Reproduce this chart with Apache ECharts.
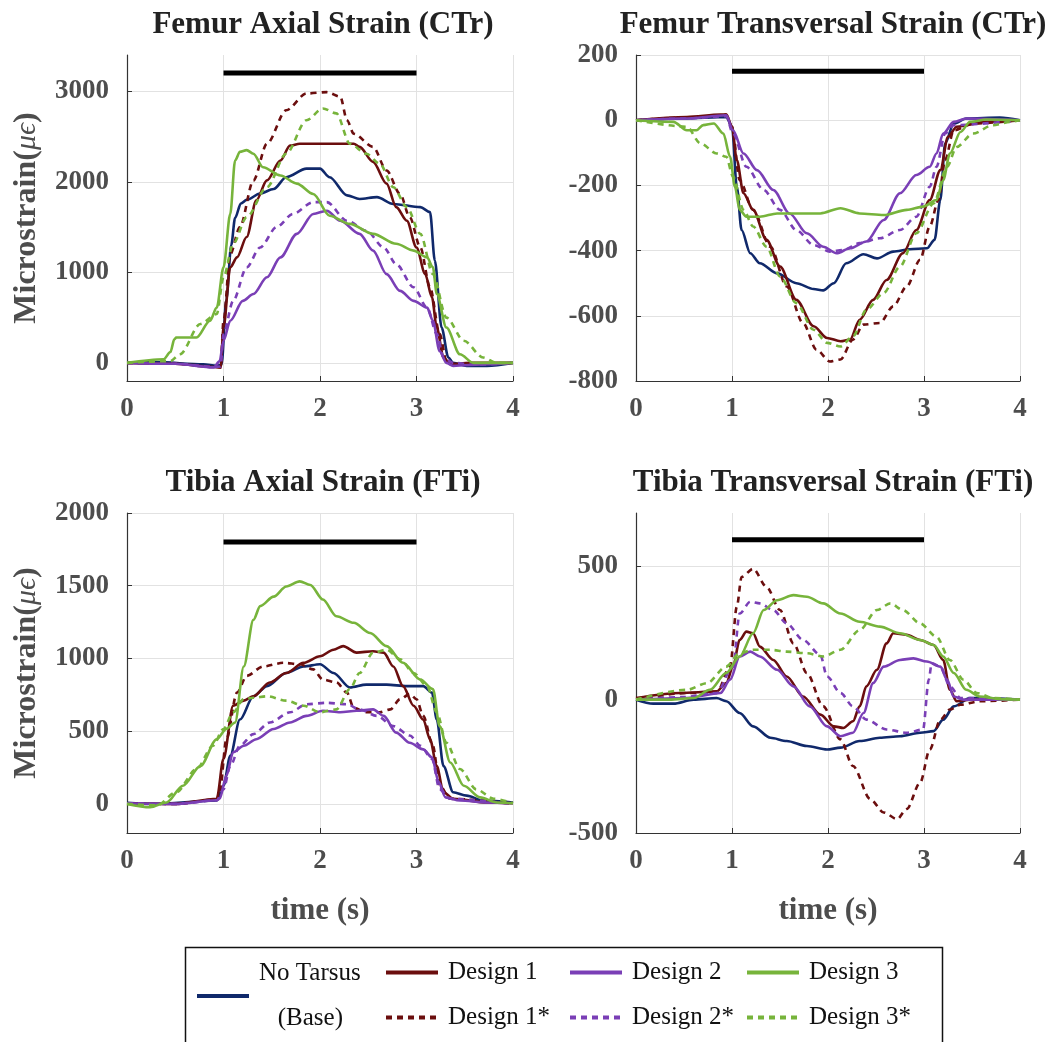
<!DOCTYPE html>
<html><head><meta charset="utf-8">
<script src="https://cdn.jsdelivr.net/npm/echarts@6/dist/echarts.min.js"></script>
<style>html,body{margin:0;padding:0;background:#fff}#c{width:1057px;height:1042px}</style>
</head><body><div id="c"></div>
<script>
// ---------- DATA ----------
const seriesNames = ['No Tarsus (Base)','Design 1','Design 1*','Design 2','Design 2*','Design 3','Design 3*'];
const panelTitles = ['Femur Axial Strain (CTr)','Femur Transversal Strain (CTr)','Tibia Axial Strain (FTi)','Tibia Transversal Strain (FTi)'];
const xTicks = [0,1,2,3,4];
const yTicksFA = [0,1000,2000,3000];
const yTicksFT = [-800,-600,-400,-200,0,200];
const yTicksTA = [0,500,1000,1500,2000];
const yTicksTT = [-500,0,500];
const yRangeFA = [-200,3400];
const yRangeFT = [-800,200];
const yRangeTA = [-200,2000];
const yRangeTT = [-500,700];
const stanceTime = [1,3];
const stanceLevel = [3200,150,1800,600];

// Femur axial (CTr)
const faBase = [[0,0],[0.3,8],[0.79,-15],[0.93,-33],[0.98,-20],[1.03,700],[1.08,1300],[1.12,1600],[1.18,1760],[1.24,1800],[1.38,1870],[1.52,1920],[1.65,2050],[1.86,2145],[2.0,2145],[2.1,2050],[2.28,1850],[2.41,1810],[2.59,1830],[2.76,1755],[3.04,1720],[3.14,1665],[3.19,1130],[3.26,390],[3.33,60],[3.38,0],[3.52,-33],[3.73,-33],[4,0]];
const faD1 = [[0,0],[0.5,-10],[0.9,-45],[0.97,-50],[1.0,390],[1.07,1055],[1.14,1165],[1.24,1390],[1.34,1795],[1.45,2015],[1.59,2235],[1.69,2400],[1.79,2420],[2.35,2420],[2.41,2385],[2.55,2220],[2.69,1980],[2.79,1720],[2.9,1570],[3.0,1275],[3.09,980],[3.16,725],[3.21,390],[3.28,60],[3.35,-15],[3.55,0],[4,0]];
const faD1s = [[0,0],[0.5,-10],[0.9,-40],[0.97,-50],[1.0,465],[1.07,1200],[1.17,1500],[1.31,2015],[1.45,2420],[1.65,2790],[1.86,2975],[2.07,2990],[2.21,2940],[2.28,2680],[2.35,2530],[2.55,2385],[2.69,2125],[2.83,1865],[2.93,1610],[3.04,1275],[3.14,835],[3.24,320],[3.31,20],[3.42,-20],[3.7,-10],[4,0]];
const faD2 = [[0,0],[0.5,-10],[0.9,-50],[0.96,20],[1.0,245],[1.07,465],[1.2,685],[1.31,760],[1.45,945],[1.59,1165],[1.76,1425],[1.93,1645],[2.07,1680],[2.21,1570],[2.41,1425],[2.55,1240],[2.69,980],[2.83,795],[2.97,685],[3.11,610],[3.17,465],[3.24,130],[3.31,0],[3.38,-33],[3.73,-15],[4,0]];
const faD2s = [[0,0],[0.5,-10],[0.9,-45],[0.97,-40],[1.0,320],[1.1,685],[1.24,1055],[1.38,1275],[1.55,1500],[1.72,1645],[1.93,1775],[2.07,1775],[2.28,1570],[2.48,1460],[2.66,1275],[2.79,1090],[2.97,835],[3.11,610],[3.21,320],[3.28,60],[3.38,0],[3.6,-20],[4,0]];
const faD3 = [[0,0],[0.38,40],[0.45,120],[0.49,260],[0.51,280],[0.72,280],[0.86,465],[0.93,610],[1.0,1055],[1.07,1645],[1.12,2235],[1.17,2330],[1.24,2350],[1.31,2310],[1.41,2160],[1.59,2070],[1.76,1980],[1.93,1865],[2.1,1625],[2.31,1535],[2.55,1425],[2.79,1315],[2.97,1240],[3.11,1165],[3.17,1055],[3.21,760],[3.31,390],[3.45,95],[3.59,0],[4,0]];
const faD3s = [[0,0],[0.45,20],[0.55,95],[0.76,430],[0.93,540],[1.0,945],[1.1,1315],[1.24,1610],[1.45,1940],[1.65,2310],[1.86,2680],[2.03,2810],[2.17,2755],[2.31,2420],[2.48,2310],[2.62,2200],[2.76,1940],[2.9,1720],[3.04,1425],[3.17,980],[3.31,500],[3.49,245],[3.69,60],[3.83,0],[4,0]];

// Femur transversal (CTr)
const ftBase = [[0,0],[0.5,5],[0.94,10],[1.0,-20],[1.05,-204],[1.1,-337],[1.19,-408],[1.29,-439],[1.47,-470],[1.67,-500],[1.85,-518],[1.95,-522],[2.06,-500],[2.19,-439],[2.37,-411],[2.51,-424],[2.68,-403],[2.85,-396],[3.03,-393],[3.11,-367],[3.17,-245],[3.22,-71],[3.31,-10],[3.44,5],[3.79,8],[4,0]];
const ftD1 = [[0,0],[0.53,10],[0.88,17],[0.94,18],[1.0,-20],[1.05,-122],[1.12,-224],[1.22,-275],[1.36,-367],[1.5,-449],[1.67,-551],[1.85,-632],[1.99,-668],[2.13,-678],[2.23,-673],[2.33,-612],[2.47,-551],[2.61,-490],[2.78,-408],[2.92,-337],[3.06,-245],[3.17,-153],[3.25,-51],[3.34,-20],[3.65,-5],[4,0]];
const ftD1s = [[0,0],[0.53,8],[0.94,15],[1.0,-20],[1.08,-184],[1.22,-275],[1.4,-388],[1.57,-510],[1.74,-622],[1.88,-704],[2.02,-740],[2.13,-734],[2.26,-673],[2.37,-627],[2.54,-622],[2.68,-571],[2.82,-510],[2.96,-428],[3.06,-326],[3.15,-245],[3.22,-122],[3.31,-31],[3.51,-10],[4,0]];
const ftD2 = [[0,0],[0.5,5],[0.94,15],[1.01,-31],[1.12,-102],[1.26,-153],[1.43,-214],[1.6,-286],[1.78,-347],[1.95,-388],[2.09,-408],[2.23,-393],[2.4,-372],[2.58,-306],[2.75,-224],[2.92,-168],[3.06,-143],[3.13,-102],[3.2,-41],[3.31,-5],[3.44,5],[4,0]];
const ftD2s = [[0,0],[0.5,5],[0.94,12],[1.01,-41],[1.15,-143],[1.33,-214],[1.5,-275],[1.67,-337],[1.85,-383],[2.02,-403],[2.16,-398],[2.33,-377],[2.54,-362],[2.75,-337],[2.92,-296],[3.06,-204],[3.13,-143],[3.22,-41],[3.31,-15],[4,0]];
const ftD3 = [[0,0],[0.39,-5],[0.53,-31],[0.63,-31],[0.7,-15],[0.81,-10],[0.91,-41],[0.98,-112],[1.03,-204],[1.08,-275],[1.15,-296],[1.29,-296],[1.47,-286],[1.67,-286],[1.92,-286],[2.13,-270],[2.33,-286],[2.58,-291],[2.82,-275],[2.99,-265],[3.13,-245],[3.2,-184],[3.27,-102],[3.38,-36],[3.48,-5],[3.65,2],[4,0]];
const ftD3s = [[0,0],[0.53,-20],[0.67,-71],[0.84,-102],[0.94,-112],[1.01,-173],[1.12,-275],[1.22,-326],[1.36,-388],[1.5,-479],[1.67,-561],[1.85,-643],[1.99,-683],[2.13,-694],[2.26,-663],[2.4,-581],[2.58,-530],[2.75,-449],[2.92,-347],[3.1,-255],[3.24,-143],[3.34,-82],[3.51,-41],[3.72,-15],[3.9,-5],[4,0]];

// Tibia axial (FTi)
const taBase = [[0,7],[0.27,0],[0.93,23],[1.0,125],[1.07,330],[1.17,580],[1.31,740],[1.45,810],[1.65,900],[1.83,945],[2.0,960],[2.14,900],[2.31,800],[2.48,820],[2.69,820],[2.9,810],[3.07,810],[3.16,765],[3.21,580],[3.28,260],[3.38,80],[3.52,57],[3.69,23],[4,10]];
const taD1 = [[0,5],[0.5,0],[0.93,35],[1.0,310],[1.1,675],[1.21,710],[1.31,740],[1.48,835],[1.65,900],[1.83,970],[2.0,1015],[2.14,1060],[2.24,1085],[2.38,1040],[2.55,1050],[2.66,1040],[2.76,945],[2.86,810],[2.97,675],[3.07,580],[3.14,445],[3.21,260],[3.28,80],[3.38,35],[3.73,10],[4,5]];
const taD1s = [[0,5],[0.5,0],[0.93,30],[0.96,80],[1.03,445],[1.14,765],[1.24,880],[1.41,945],[1.62,970],[1.79,960],[1.93,925],[2.03,855],[2.17,835],[2.28,765],[2.35,660],[2.48,630],[2.62,630],[2.73,650],[2.83,720],[2.93,755],[3.0,720],[3.07,605],[3.17,400],[3.24,125],[3.35,35],[4,0]];
const taD2 = [[0,5],[0.5,0],[0.93,25],[0.96,35],[1.03,195],[1.1,355],[1.21,400],[1.34,445],[1.52,515],[1.69,560],[1.86,605],[2.03,640],[2.21,630],[2.38,640],[2.55,650],[2.66,605],[2.79,490],[2.93,420],[3.07,375],[3.16,320],[3.23,150],[3.3,45],[3.45,23],[3.73,10],[4,5]];
const taD2s = [[0,5],[0.5,0],[0.93,25],[1.0,100],[1.07,260],[1.17,400],[1.31,480],[1.48,560],[1.69,630],[1.86,685],[2.07,695],[2.28,685],[2.41,650],[2.59,605],[2.76,535],[2.93,470],[3.04,400],[3.16,310],[3.24,100],[3.35,35],[4,0]];
const taD3 = [[0,0],[0.24,-23],[0.41,10],[0.58,125],[0.76,260],[0.93,445],[1.03,515],[1.12,560],[1.21,945],[1.31,1265],[1.38,1360],[1.52,1425],[1.65,1495],[1.79,1530],[1.9,1505],[2.03,1405],[2.17,1290],[2.35,1245],[2.52,1175],[2.69,1085],[2.86,970],[3.04,855],[3.17,790],[3.24,535],[3.35,285],[3.49,125],[3.66,45],[3.83,10],[4,5]];
const taD3s = [[0,0],[0.31,-10],[0.51,80],[0.72,240],[0.89,400],[1.0,515],[1.1,630],[1.21,720],[1.31,730],[1.45,740],[1.65,710],[1.83,675],[2.0,630],[2.17,650],[2.31,790],[2.41,900],[2.55,1040],[2.69,1060],[2.83,995],[2.97,900],[3.11,810],[3.21,630],[3.31,420],[3.45,240],[3.62,100],[3.8,35],[4,5]];

// Tibia transversal (FTi)
const ttBase = [[0,0],[0.18,-15],[0.39,-15],[0.6,0],[0.84,6],[0.94,-6],[1.08,-50],[1.22,-100],[1.4,-143],[1.57,-155],[1.78,-174],[1.99,-187],[2.13,-180],[2.33,-155],[2.54,-143],[2.75,-137],[2.96,-124],[3.1,-118],[3.2,-75],[3.31,-25],[3.48,6],[3.65,6],[4,0]];
const ttD1 = [[0,6],[0.46,25],[0.84,31],[0.94,62],[1.01,124],[1.08,224],[1.15,255],[1.22,249],[1.29,199],[1.43,149],[1.57,87],[1.74,12],[1.92,-56],[2.06,-100],[2.16,-106],[2.26,-81],[2.33,-25],[2.4,50],[2.51,112],[2.61,211],[2.68,249],[2.82,243],[2.96,224],[3.1,205],[3.2,149],[3.27,37],[3.34,-6],[3.48,0],[4,0]];
const ttD1s = [[0,0],[0.53,25],[0.84,25],[0.98,124],[1.05,348],[1.1,460],[1.22,491],[1.36,423],[1.5,336],[1.64,211],[1.78,100],[1.95,-25],[2.13,-149],[2.26,-249],[2.44,-373],[2.58,-423],[2.72,-448],[2.82,-410],[2.96,-311],[3.06,-187],[3.17,-75],[3.27,-37],[3.38,-19],[3.58,-6],[4,0]];
const ttD2 = [[0,0],[0.53,6],[0.88,25],[0.98,75],[1.08,162],[1.19,180],[1.29,162],[1.47,112],[1.64,50],[1.81,-25],[1.99,-100],[2.13,-137],[2.26,-124],[2.37,-50],[2.47,62],[2.58,124],[2.75,149],[2.89,155],[3.03,143],[3.17,124],[3.24,75],[3.31,12],[3.41,0],[4,0]];
const ttD2s = [[0,0],[0.5,10],[0.84,25],[1.01,124],[1.08,323],[1.19,367],[1.29,361],[1.43,336],[1.57,286],[1.74,224],[1.92,168],[1.99,87],[2.13,25],[2.26,-25],[2.4,-75],[2.61,-112],[2.82,-124],[2.99,-112],[3.05,75],[3.08,137],[3.17,124],[3.27,50],[3.38,6],[4,0]];
const ttD3 = [[0,0],[0.35,0],[0.6,6],[0.77,37],[0.94,100],[1.08,162],[1.22,249],[1.33,336],[1.47,373],[1.64,392],[1.78,386],[1.95,361],[2.13,323],[2.33,292],[2.54,274],[2.75,249],[2.96,224],[3.1,205],[3.2,162],[3.31,100],[3.44,37],[3.58,12],[3.79,2],[4,0]];
const ttD3s = [[0,0],[0.53,37],[0.74,62],[0.94,124],[1.08,174],[1.22,187],[1.4,187],[1.57,180],[1.78,174],[1.95,162],[2.13,187],[2.33,261],[2.51,336],[2.65,361],[2.78,336],[2.96,286],[3.13,236],[3.27,149],[3.41,75],[3.55,25],[3.72,6],[4,0]];

// ---------- BUILD ----------
const FONT = "'Liberation Serif','Times New Roman',serif";
const colors = ['#10296b','#6b0e0e','#6b0e0e','#7a3fb6','#7a3fb6','#77b43b','#77b43b'];
const dashed = [false,false,true,false,true,false,true];
const panelData = [
  [faBase,faD1,faD1s,faD2,faD2s,faD3,faD3s],
  [ftBase,ftD1,ftD1s,ftD2,ftD2s,ftD3,ftD3s],
  [taBase,taD1,taD1s,taD2,taD2s,taD3,taD3s],
  [ttBase,ttD1,ttD1s,ttD2,ttD2s,ttD3,ttD3s]
];
const yTicks = [yTicksFA,yTicksFT,yTicksTA,yTicksTT];
const yRanges = [yRangeFA,yRangeFT,yRangeTA,yRangeTT];
const gridRects = [[127,55,386,326],[636,55,384,326],[127,513,386,320],[636,513,384,320]];
const titleCenters = [[318,4],[828,4],[318,462],[828,462]];

const grid = [], xAxis = [], yAxis = [], series = [], title = [];
const tickColor = '#4d4d4d';
for (let p = 0; p < 4; p++) {
  const r = gridRects[p];
  grid.push({left:r[0], top:r[1], width:r[2], height:r[3], containLabel:false});
  title.push({text: panelTitles[p], left: titleCenters[p][0], top: titleCenters[p][1], textAlign:'center',
    textStyle:{fontFamily:FONT, fontWeight:'bold', fontSize:31, color:'#222'}});
  const bottomRow = p >= 2, leftCol = (p % 2) === 0;
  xAxis.push({type:'value', gridIndex:p, min:xTicks[0], max:xTicks[xTicks.length-1], interval:1,
    name: bottomRow ? 'time (s)' : '', nameLocation:'middle', nameGap:62,
    nameTextStyle:{fontFamily:FONT, fontWeight:'bold', fontSize:31, color:tickColor},
    axisLine:{show:true, onZero:false, lineStyle:{color:'#333', width:1.2}},
    axisTick:{show:true, inside:true, length:5, lineStyle:{color:'#333'}},
    axisLabel:{fontFamily:FONT, fontWeight:'bold', fontSize:27, color:tickColor, margin:15, formatter: v => String(v)},
    splitLine:{show:true, lineStyle:{color:'#e2e2e2', width:1}}
  });
  yAxis.push({type:'value', gridIndex:p, min:yRanges[p][0], max:yRanges[p][1],
    name: leftCol ? 'Microstrain({g|μϵ})' : '', nameLocation:'middle', nameGap:84,
    nameTextStyle:{fontFamily:FONT, fontWeight:'bold', fontSize:32, color:tickColor,
      rich:{g:{fontFamily:FONT, fontStyle:'italic', fontWeight:'normal', fontSize:30, color:tickColor}}},
    axisLine:{show:true, onZero:false, lineStyle:{color:'#333', width:1.2}},
    axisTick:{show:true, inside:true, length:5, customValues:yTicks[p], lineStyle:{color:'#333'}},
    axisLabel:{fontFamily:FONT, fontWeight:'bold', fontSize:27, color:tickColor, margin:18,
      customValues:yTicks[p], formatter: v => String(v)},
    splitLine:{show:true, lineStyle:{color:'#e2e2e2', width:1}}
  });
  for (let s = 0; s < 7; s++) {
    series.push({type:'line', name:seriesNames[s], xAxisIndex:p, yAxisIndex:p, data:panelData[p][s],
      symbol:'none', smooth:0.3, smoothMonotone:'x',
      lineStyle:{color:colors[s], width:2.6, type: dashed[s] ? [6,5] : 'solid'},
      itemStyle:{color:colors[s]}, z: 3});
  }
  series.push({type:'line', name:'stance', xAxisIndex:p, yAxisIndex:p, silent:true,
    data: stanceTime.map(t => [t, stanceLevel[p]]), symbol:'none',
    lineStyle:{color:'#000', width:5}, z:4});
}

const legTxt = {fontFamily:FONT, fontSize:25, color:'#111', padding:[0,0,0,5]};
const legBase = {orient:'horizontal', padding:0, itemWidth:52, itemHeight:14, selectedMode:false,
  itemStyle:{opacity:0}, lineStyle:{width:4}, textStyle:legTxt};
const legendPos = [
  ['No Tarsus (Base)',195,951],
  ['Design 1',384,960],['Design 1*',384,1005],
  ['Design 2',568,960],['Design 2*',568,1005],
  ['Design 3',745,960],['Design 3*',745,1005]
];
const legend = legendPos.map(([n,l,t]) => Object.assign({}, legBase, {
  data:[n], left:l, top:t,
  formatter: n === 'No Tarsus (Base)' ? 'No Tarsus\n   (Base)' : '{name}',
  textStyle: n === 'No Tarsus (Base)' ? Object.assign({}, legTxt, {lineHeight:45}) : legTxt
}));

const chart = echarts.init(document.getElementById('c'), null, {renderer:'canvas'});
chart.setOption({
  animation:false,
  backgroundColor:'#fff',
  title, grid, xAxis, yAxis, series, legend,
  graphic:[{type:'rect', left:183, top:945, shape:{width:757, height:120},
    style:{fill:'none', stroke:'#111', lineWidth:1.5}, silent:true}]
});
</script>
</body></html>
